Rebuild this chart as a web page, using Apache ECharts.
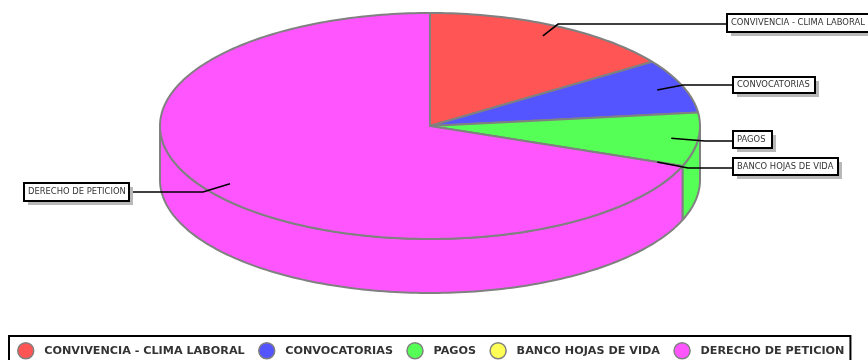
<!DOCTYPE html>
<html>
<head>
<meta charset="utf-8">
<style>html,body{margin:0;padding:0;background:#fff}#chart{width:868px;height:360px}</style>
<script src="https://cdn.jsdelivr.net/npm/echarts@6/dist/echarts.min.js"></script>
</head>
<body>
<div id="chart"></div>
<script>
// Complaint categories and their case counts
var categories = ['CONVIVENCIA - CLIMA LABORAL', 'CONVOCATORIAS', 'PAGOS', 'BANCO HOJAS DE VIDA', 'DERECHO DE PETICION'];
var counts = [2, 1, 1, 0, 9];
var colors = ['#ff5555', '#5555ff', '#55ff55', '#ffff55', '#ff55ff'];

// Disc geometry
var CX = 430, CY = 126, RX = 270, RY = 113, DEPTH = 54;
var EDGE = '#808080';
var total = counts.reduce(function (a, b) { return a + b; }, 0);

// Callout placement: box left/top/width/height, elbow of the leader line
var callouts = [
  { box: [727, 14, 150, 18], elbow: [558, 24] },
  { box: [733, 77, 82, 16], elbow: [683, 85] },
  { box: [733, 131, 39, 17], elbow: [705, 141] },
  { box: [733, 158, 105, 17], elbow: [688, 168] },
  { box: [24, 183, 105, 18], elbow: [203, 192] }
];

// Start and end angle of a slice, clockwise from twelve o'clock
function sliceRange(i) {
  var before = 0;
  for (var k = 0; k < i; k++) before += counts[k];
  return [before / total * Math.PI * 2, (before + counts[i]) / total * Math.PI * 2];
}
function rimPoint(t, r, dy) {
  return [CX + RX * r * Math.sin(t), CY - RY * r * Math.cos(t) + (dy || 0)];
}
function arcPoints(a, b, dy) {
  var n = Math.max(2, Math.ceil(Math.abs(b - a) / 0.02));
  var pts = [];
  for (var j = 0; j <= n; j++) pts.push(rimPoint(a + (b - a) * j / n, 1, dy));
  return pts;
}

function renderSlice(i) {
  return function () {
    var range = sliceRange(i);
    var children = [];
    var style = { fill: colors[i], stroke: EDGE, lineWidth: 2, lineJoin: 'round' };
    // Only the front half of the disc shows its wall
    var a = Math.max(range[0], Math.PI / 2), b = Math.min(range[1], Math.PI * 1.5);
    if (b > a) {
      children.push({
        type: 'polygon',
        shape: { points: arcPoints(a, b, 0).concat(arcPoints(b, a, DEPTH)) },
        style: style
      });
    }
    if (range[1] > range[0]) {
      children.push({
        type: 'polygon',
        shape: { points: [[CX, CY]].concat(arcPoints(range[0], range[1], 0)) },
        style: style
      });
    }
    return { type: 'group', children: children };
  };
}

function renderCallout(params) {
  var i = params.dataIndex;
  var range = sliceRange(i);
  var mid = (range[0] + range[1]) / 2;
  var c = callouts[i];
  var box = c.box;
  var start = rimPoint(mid, 0.9);
  var end = i === 4 ? box[0] + box[2] : box[0];
  return {
    type: 'group',
    children: [
      { type: 'polyline', shape: { points: [start, c.elbow, [end, c.elbow[1]]] },
        style: { fill: null, stroke: '#000', lineWidth: 1.6 } },
      { type: 'rect', shape: { x: box[0] + 4, y: box[1] + 4, width: box[2], height: box[3] },
        style: { fill: '#b8b8b8' } },
      { type: 'rect', shape: { x: box[0], y: box[1], width: box[2], height: box[3] },
        style: { fill: '#fff', stroke: '#000', lineWidth: 2 } },
      { type: 'text', x: box[0] + 4, y: box[1] + box[3] / 2,
        style: { text: categories[i], fill: '#333', font: '8.4px "DejaVu Sans"', verticalAlign: 'middle', align: 'left' } }
    ]
  };
}

var series = categories.map(function (name, i) {
  return {
    type: 'custom', name: name, coordinateSystem: 'none', silent: true, z: 2,
    itemStyle: { color: colors[i] },
    renderItem: renderSlice(i),
    data: [counts[i]]
  };
});
series.push({
  type: 'custom', name: 'callouts', coordinateSystem: 'none', silent: true, z: 5,
  renderItem: renderCallout,
  data: counts
});

var chart = echarts.init(document.getElementById('chart'), null, { renderer: 'canvas' });
chart.setOption({
  animation: false,
  backgroundColor: '#fff',
  legend: {
    data: categories,
    left: 9, top: 336,
    orient: 'horizontal',
    icon: 'circle',
    itemWidth: 19, itemHeight: 16, itemGap: 13.3,
    padding: [6, 6, 6, 8],
    selectedMode: false,
    borderColor: '#000', borderWidth: 2,
    backgroundColor: '#fff',
    itemStyle: { borderColor: EDGE, borderWidth: 1.5 },
    textStyle: { color: '#333', fontFamily: 'DejaVu Sans', fontSize: 11.2, fontWeight: 'bold', padding: [0, 0, 0, 4] }
  },
  series: series
});
</script>
</body>
</html>
